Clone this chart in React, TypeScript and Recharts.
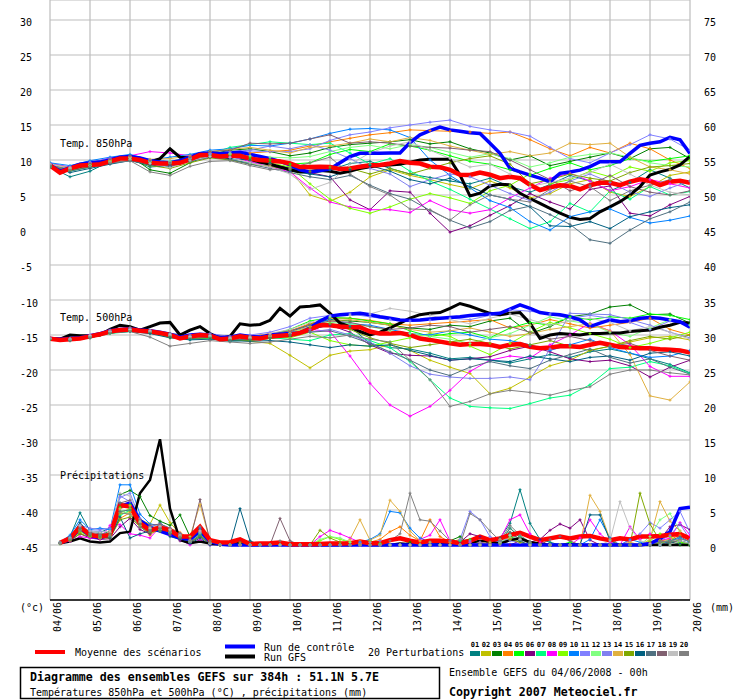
import React from 'react';
import { LineChart, Line, XAxis, YAxis, CartesianGrid } from 'recharts';

const FONT = '"DejaVu Sans Mono", "Liberation Mono", monospace';

// ---- axes / labels ----
const DATE_LABELS = ['04/06','05/06','06/06','07/06','08/06','09/06','10/06','11/06','12/06','13/06','14/06','15/06','16/06','17/06','18/06','19/06','20/06'];
const DATE_TICKS = [0,4,8,12,16,20,24,28,32,36,40,44,48,52,56,60,64];
const LEFT_TICKS = [-45,-40,-35,-30,-25,-20,-15,-10,-5,0,5,10,15,20,25,30];
const RIGHT_TICKS = [0,5,10,15,20,25,30,35,40,45,50,55,60,65,70,75];
const LEFT_DOMAIN = [-52.857, 32.857];
const RIGHT_DOMAIN = [-7.857, 77.857];

const MEMBER_NAMES = ['01','02','03','04','05','06','07','08','09','10','11','12','13','14','15','16','17','18','19','20'];
const MEMBER_COLORS = ['#008080','#c0c000','#008000','#ff8000','#00ff00','#800080','#00ff80','#ff00ff','#80ff00','#0080ff','#8080ff','#80ff80','#8080f0','#e0b040','#80a800','#006080','#507080','#806070','#c0c0c0','#808080'];

// ---- 6-hourly main series (65 points, 04/06 00h .. 20/06 00h) ----
const T850_MEAN = [
  9.2,8.2,8.8,9.2,9.3,9.4,9.8,10.2,10.2,10.0,9.6,9.5,9.5,9.6,10.1,10.7,
  10.7,10.5,10.6,10.6,10.2,10.0,9.9,9.8,9.5,9.0,9.0,9.05,9.0,8.7,8.8,9.05,
  9.25,9.3,9.5,9.85,9.6,9.5,9.05,8.95,8.6,7.9,7.85,8.2,7.9,7.4,7.6,7.4,
  6.45,5.7,6.1,6.4,6.3,5.8,6.4,6.75,6.75,6.4,6.9,7.25,7.0,6.4,6.9,7.05,
  6.75];
const T850_CTRL = [
  9.3,8.4,8.9,9.4,9.6,9.7,10.0,10.4,10.5,10.3,9.9,9.7,9.6,9.9,10.4,10.9,
  11.0,10.9,11.0,11.1,10.8,10.5,10.2,9.8,9.3,8.6,8.3,8.5,8.7,9.6,10.5,10.95,
  10.95,10.95,11.0,11.0,12.5,13.6,14.2,14.7,14.3,14.1,13.9,13.8,12.4,10.95,8.8,8.3,
  7.85,7.4,6.9,8.1,8.3,8.55,9.05,9.75,9.75,9.75,10.95,12.1,12.4,12.6,13.25,12.9,
  10.95];
const T850_GFS = [
  9.3,8.3,8.8,9.1,9.6,9.6,9.9,10.3,10.4,10.1,9.7,10.2,11.6,10.4,10.3,10.9,
  10.8,10.6,10.4,10.7,10.1,9.7,9.4,9.0,8.6,8.3,8.4,8.5,8.4,8.1,8.4,8.8,
  9.05,9.2,9.3,9.4,9.7,10.0,10.1,10.1,10.1,7.85,4.85,5.25,6.3,6.55,6.45,5.25,
  4.5,3.8,3.1,2.4,1.8,1.5,1.65,2.6,3.3,4.05,5.0,6.2,7.85,8.3,8.65,9.3,
  10.5];
const T500_MEAN = [
  -15.55,-15.7,-15.6,-15.5,-15.2,-14.9,-14.5,-14.3,-14.2,-14.4,-14.5,-14.7,-15.0,-15.5,-15.2,-15.0,
  -15.1,-15.6,-15.5,-15.2,-15.4,-15.5,-15.2,-15.1,-15.0,-14.7,-14.2,-13.6,-13.6,-13.8,-13.9,-13.9,
  -14.5,-14.8,-14.8,-14.7,-15.0,-15.5,-15.7,-15.95,-16.2,-16.4,-16.3,-16.3,-16.4,-16.7,-16.4,-16.3,
  -16.7,-16.9,-16.8,-16.6,-16.6,-16.7,-16.4,-16.1,-16.4,-16.7,-16.8,-16.9,-16.9,-17.05,-17.1,-17.2,
  -17.5];
const T500_CTRL = [
  -15.5,-15.6,-15.5,-15.4,-15.1,-14.8,-14.4,-14.2,-14.1,-14.3,-14.4,-14.6,-14.9,-15.3,-15.0,-14.9,
  -15.0,-15.4,-15.3,-15.0,-15.2,-15.3,-15.0,-14.9,-14.8,-14.7,-14.0,-13.0,-12.3,-12.1,-12.0,-11.9,
  -12.1,-12.4,-12.6,-12.85,-12.9,-12.85,-12.7,-12.6,-12.5,-12.4,-12.2,-12.1,-12.0,-11.9,-11.3,-10.7,
  -11.2,-11.8,-12.0,-12.1,-12.4,-12.85,-13.8,-13.3,-12.85,-13.1,-12.95,-12.6,-12.5,-12.6,-12.85,-13.1,
  -13.9];
const T500_GFS = [
  -15.5,-15.6,-15.0,-15.1,-15.1,-15.0,-14.2,-13.6,-13.8,-14.3,-13.8,-13.3,-13.2,-15.0,-14.3,-13.8,
  -14.8,-15.5,-15.2,-13.4,-13.6,-13.5,-12.9,-11.2,-12.3,-11.0,-10.9,-10.7,-11.9,-13.3,-13.8,-14.5,
  -15.0,-14.6,-14.0,-13.3,-12.6,-12.1,-11.9,-11.8,-11.2,-10.5,-10.9,-11.4,-11.9,-12.1,-11.9,-11.8,
  -13.3,-15.5,-15.0,-14.8,-14.9,-15.0,-14.8,-14.8,-14.7,-14.7,-14.5,-14.4,-14.3,-13.9,-13.6,-13.2,
  -13.3];
const RAIN_MEAN = [null,
  0.33,0.95,2.6,1.45,1.2,1.45,5.7,5.5,3.1,2.1,2.5,2.1,1.2,1.2,2.6,0.7,
  0.35,0.4,0.8,0.15,0.2,0.25,0.35,0.1,0.1,0.1,0.15,0.2,0.2,0.25,0.5,0.25,
  0.25,0.7,0.95,0.6,0.35,0.6,0.6,0.5,0.25,0.6,1.2,0.7,0.95,1.45,1.75,1.2,
  0.7,0.95,1.2,0.95,1.2,1.3,0.95,0.7,0.95,0.8,1.2,1.2,1.3,1.45,1.55,0.95];
const RAIN_CTRL = [null,
  0.3,0.8,2.4,1.3,1.0,1.5,5.5,6.0,3.5,2.5,2.0,1.5,1.0,0.8,2.0,0.5,
  0.1,0,0,0,0,0,0,0,0,0,0,0,0,0,0,0,
  0,0,0,0,0,0,0,0,0,0,0,0,0,0,0,0,
  0,0,0,0,0,0,0,0,0,0,0,0.2,0.9,1.9,5.2,5.4];
const RAIN_GFS = [null,
  0.25,0.5,0.95,0.5,0.35,0.5,1.7,1.9,7.4,9.3,15.1,5.2,0.7,0.25,0.5,0.2,
  0.1,0.1,0.3,0,0,0,0.1,0,0,0,0,0,0,0,0.1,0,
  0,0,0.2,0.1,0,0,0.1,0.2,0,0.3,0.6,0.5,0.2,0.7,0.95,0.4,
  0.2,0,0,0.1,0,0,0,0,0,0,0,0,0,0,0,0];

// ---- 12-hourly perturbation temperatures (33 points) ----
const T850_MEMBERS = [
  [9.0,7.6,8.4,9.8,10.1,9.0,9.2,10.4,11.2,10.0,9.6, 9.4,8.9,8.0,8.6,9.5,9.8,8.8,8.0,7.5,7.0,6.6, 7.4,6.2,5.4,6.5,7.8,7.0,5.6,6.8,8.6,7.4,6.0],
  [9.3,8.6,9.4,9.9,10.4,9.7,9.5,10.3,10.9,10.8,10.1, 9.3,8.6,5.0,4.1,5.4,7.6,8.6,7.8,7.2,6.5,5.9, 7.0,6.0,4.6,5.2,6.6,7.2,5.4,4.8,6.2,7.8,8.3],
  [9.5,8.9,9.6,10.2,10.6,8.6,8.1,9.6,10.8,11.4,11.6, 11.2,10.6,11.0,11.8,12.2,12.4,12.6,12.9,12.3,12.6,11.6, 11.0,10.0,10.6,9.2,9.8,10.4,11.0,10.2,11.6,11.8,10.2],
  [9.2,8.5,9.2,9.7,10.3,9.8,9.6,10.0,10.6,10.9,11.0, 11.2,11.4,12.0,12.6,13.1,13.6,13.9,14.3,14.2,14.1,14.0, 13.8,14.0,12.9,11.6,10.6,11.8,11.0,12.4,11.6,10.0,8.8],
  [9.1,8.8,9.4,10.0,10.5,9.9,9.4,10.2,11.0,10.7,10.4, 10.0,9.4,9.6,10.8,11.5,11.2,12.3,12.0,11.4,10.6,9.8, 9.4,8.6,7.8,8.8,9.6,8.6,9.2,10.2,9.8,10.2,10.6],
  [9.4,8.7,9.1,9.8,10.2,9.5,9.3,10.0,10.6,10.5,10.0, 9.4,8.8,8.2,7.6,4.3,2.9,5.6,5.4,2.4,-0.3,0.6, 2.1,3.5,5.2,4.0,3.0,5.8,6.3,2.4,2.0,3.6,4.8],
  [9.0,8.4,9.0,9.6,10.1,9.8,9.8,10.0,10.9,11.8,12.2, 12.6,12.4,12.2,12.4,11.0,9.4,10.2,8.4,7.0,5.8,4.4, 3.0,1.6,0.2,1.2,3.8,2.6,5.6,4.4,6.2,5.0,5.5],
  [9.5,9.0,9.6,10.3,10.6,11.2,11.0,10.6,11.0,10.4,9.8, 9.0,8.3,6.0,4.0,3.3,2.9,2.9,2.5,4.2,2.9,2.4, 2.9,4.6,6.0,7.4,8.1,7.0,5.6,6.2,7.2,6.6,6.0],
  [9.2,8.8,9.3,9.9,10.0,9.7,9.6,10.2,10.6,10.8,10.0, 9.6,9.0,6.6,4.4,3.1,2.4,3.3,4.4,5.2,4.6,3.8, 5.6,6.4,8.0,6.6,7.2,8.4,7.6,9.0,8.4,9.6,9.9],
  [9.6,9.2,9.9,10.4,10.8,10.0,10.4,10.8,11.4,11.6,12.1, 12.0,12.4,13.0,13.8,14.4,14.5,14.3,13.2,10.0,7.8,6.0, 4.2,3.2,1.2,0.0,1.9,2.6,3.0,1.8,1.0,1.4,2.0],
  [9.4,9.0,9.6,10.1,10.4,9.8,9.7,10.2,10.8,10.9,11.3, 11.2,11.2,11.6,12.8,13.6,14.0,14.6,15.0,15.4,15.7,14.8, 14.3,14.0,13.4,11.8,10.2,9.6,11.0,12.2,13.6,13.0,11.4],
  [9.0,8.6,9.2,9.8,10.3,9.9,9.8,10.4,11.2,11.0,10.6, 10.4,10.3,10.5,11.2,11.8,12.1,11.6,12.2,11.8,11.1,10.4, 10.9,10.2,9.0,9.6,10.4,10.8,11.0,10.4,9.6,9.2,9.0],
  [9.3,8.9,9.7,10.2,10.5,10.0,9.6,10.3,10.9,11.2,11.4, 12.0,11.6,12.2,11.4,10.2,8.8,8.0,6.2,7.2,8.0,7.6, 6.4,5.2,4.2,5.4,7.0,8.0,6.8,5.4,4.8,6.0,7.0],
  [9.4,8.9,9.5,10.0,10.4,10.1,10.2,10.6,11.2,11.5,11.8, 11.4,11.0,11.8,12.0,12.4,13.0,12.6,13.2,12.8,12.0,11.4, 10.8,11.2,10.6,11.0,12.4,12.2,12.4,10.4,9.0,8.6,8.0],
  [9.1,8.5,9.0,9.6,10.0,9.2,8.8,9.6,10.3,10.0,9.4, 9.1,8.6,8.4,9.0,8.8,8.0,8.8,8.0,8.8,9.6,10.2, 10.6,9.4,6.6,7.2,8.0,7.4,7.0,8.2,9.0,9.2,9.5],
  [9.2,8.2,8.8,9.4,9.9,9.3,9.0,9.9,10.4,10.2,10.0, 9.6,8.4,8.0,7.6,8.6,9.2,8.4,7.2,6.6,7.4,6.2, 5.0,4.4,3.3,0.6,0.5,1.2,0.2,1.9,2.6,3.2,3.6],
  [9.0,8.4,9.0,9.5,9.9,9.4,9.1,9.8,10.4,10.1,9.4, 8.8,8.2,7.6,7.2,7.8,6.4,5.2,4.4,2.8,1.4,0.3, 1.2,2.8,3.4,2.2,0.8,-1.4,-1.9,0.0,1.6,2.6,4.0],
  [9.3,8.7,9.5,10.1,10.6,9.9,9.6,10.4,11.2,11.4,12.4, 12.3,12.4,13.0,13.6,12.4,12.6,12.4,12.0,11.8,11.7,11.4, 11.2,10.0,8.6,7.2,5.6,6.4,7.8,6.2,5.4,5.0,5.6],
  [9.4,8.8,9.2,9.7,10.1,9.5,8.9,9.9,10.5,10.4,9.6, 9.0,8.0,5.8,6.8,9.4,11.0,12.0,12.6,11.4,10.2,9.0, 9.4,8.0,6.2,6.8,7.4,8.2,9.4,8.0,6.4,5.4,5.0],
  [9.2,8.6,9.2,9.6,9.9,8.3,7.8,9.1,9.8,9.9,9.2, 8.6,8.8,9.6,10.4,8.0,6.2,5.0,3.0,2.9,1.4,3.6, 5.0,4.4,4.0,5.8,7.0,6.2,4.2,5.6,6.4,7.2,7.0],
];
const T500_MEMBERS = [
  [-15.6,-15.8,-15.3,-14.7,-14.4,-14.7,-15.3,-15.6,-15.4,-15.9,-15.7, -15.5,-15.2,-14.4,-13.4,-13.8,-16.2,-16.8,-17.0,-17.6,-18.4,-18.2, -18.6,-19.0,-18.4,-17.8,-18.2,-17.4,-17.0,-17.6,-18.4,-19.2,-20.4],
  [-15.4,-15.6,-15.1,-14.4,-14.0,-14.6,-15.4,-15.3,-15.0,-15.6,-15.9, -16.2,-17.9,-19.7,-17.9,-17.3,-17.1,-16.4,-17.2,-18.6,-19.6,-20.5, -23.4,-22.6,-21.0,-19.4,-18.6,-17.2,-16.6,-16.0,-15.4,-15.2,-15.7],
  [-15.5,-15.5,-15.2,-14.5,-14.1,-14.4,-14.8,-15.1,-15.0,-15.3,-15.2, -15.0,-14.6,-13.4,-12.8,-13.0,-13.2,-13.6,-14.0,-14.2,-13.6,-13.8, -13.0,-12.6,-14.8,-13.8,-12.4,-12.0,-11.0,-10.7,-12.1,-12.0,-13.3],
  [-15.5,-15.7,-15.2,-14.6,-14.3,-14.5,-15.0,-15.2,-15.2,-15.4,-15.2, -14.8,-14.4,-13.4,-12.6,-12.6,-12.9,-13.4,-13.6,-13.4,-13.2,-13.0, -12.8,-14.0,-13.6,-12.8,-13.4,-14.0,-13.6,-13.2,-12.6,-14.2,-15.0],
  [-15.6,-15.6,-15.2,-14.5,-14.2,-14.4,-14.9,-15.4,-15.3,-15.6,-15.4, -15.0,-14.2,-13.0,-12.5,-12.6,-13.0,-13.4,-14.4,-15.2,-14.8,-14.6, -15.4,-14.0,-13.2,-13.6,-12.4,-12.8,-12.4,-12.6,-12.0,-12.2,-12.8],
  [-15.5,-15.7,-15.3,-14.6,-14.2,-14.6,-15.2,-15.3,-15.2,-15.5,-15.6, -15.4,-15.2,-14.2,-13.6,-14.6,-16.4,-17.6,-17.9,-18.0,-18.6,-18.4, -18.1,-17.2,-16.6,-17.4,-18.4,-18.8,-18.6,-19.4,-21.0,-19.6,-18.6],
  [-15.6,-15.8,-15.4,-14.8,-14.5,-14.7,-15.3,-15.6,-15.5,-15.8,-15.7, -15.4,-15.6,-15.8,-15.0,-14.8,-15.8,-16.8,-18.8,-21.4,-24.0,-25.2, -25.4,-25.5,-24.8,-24.0,-23.6,-22.1,-19.8,-19.6,-18.8,-19.4,-20.5],
  [-15.4,-15.5,-15.1,-14.4,-14.1,-14.4,-15.0,-15.2,-15.0,-15.4,-15.3, -15.0,-14.8,-14.2,-14.5,-18.0,-21.9,-25.0,-26.6,-25.2,-22.9,-20.2, -18.6,-18.0,-18.3,-16.4,-15.0,-13.3,-14.4,-16.4,-19.5,-20.9,-20.9],
  [-15.6,-15.6,-15.2,-14.6,-14.3,-14.6,-15.2,-15.5,-15.2,-15.6,-15.5, -15.2,-15.4,-14.6,-15.8,-16.4,-16.6,-16.0,-15.4,-14.8,-15.2,-16.6, -17.8,-16.2,-14.6,-13.2,-14.0,-14.8,-15.6,-16.8,-16.2,-15.4,-14.6],
  [-15.5,-15.6,-15.2,-14.4,-14.1,-14.4,-14.9,-15.1,-15.1,-15.4,-15.3, -15.0,-14.6,-13.6,-12.8,-13.4,-13.6,-14.2,-14.8,-15.0,-14.4,-15.0, -15.6,-15.8,-16.4,-17.2,-16.4,-15.6,-16.8,-17.6,-18.2,-18.0,-17.2],
  [-15.4,-15.5,-15.0,-14.3,-14.0,-14.3,-14.8,-15.0,-14.8,-15.2,-15.0, -14.6,-13.8,-12.6,-12.2,-12.0,-12.4,-12.8,-13.0,-12.9,-12.6,-12.8, -12.2,-11.4,-11.6,-12.0,-12.6,-12.2,-12.6,-13.2,-14.2,-13.0,-13.6],
  [-15.6,-15.7,-15.3,-14.6,-14.3,-14.5,-15.1,-15.4,-15.3,-15.6,-15.5, -15.2,-14.8,-13.8,-13.2,-13.4,-13.8,-14.4,-14.8,-15.2,-15.6,-16.2, -15.4,-14.8,-13.6,-12.4,-13.0,-13.4,-14.6,-15.2,-14.0,-12.8,-13.6],
  [-15.5,-15.6,-15.2,-14.5,-14.2,-14.5,-15.0,-15.3,-15.2,-15.5,-15.4, -15.1,-14.8,-14.6,-14.2,-15.0,-16.0,-17.6,-19.4,-20.6,-21.0,-21.2, -21.2,-21.0,-21.4,-17.0,-11.9,-12.0,-12.1,-12.8,-13.6,-14.6,-15.4],
  [-15.5,-15.6,-15.2,-14.6,-14.3,-14.6,-15.1,-15.3,-15.2,-15.5,-15.4, -15.1,-14.6,-13.8,-13.0,-12.8,-13.2,-13.6,-14.2,-14.6,-14.4,-14.0, -14.6,-15.2,-14.8,-14.2,-13.8,-13.4,-14.4,-17.8,-23.7,-24.3,-21.7],
  [-15.6,-15.7,-15.3,-14.7,-14.4,-14.7,-15.3,-15.5,-15.4,-15.7,-15.8, -15.5,-15.0,-14.0,-13.4,-14.2,-15.4,-16.2,-16.8,-16.4,-16.0,-15.6, -16.2,-17.0,-16.4,-15.8,-16.6,-17.2,-16.6,-15.8,-15.2,-15.6,-15.0],
  [-15.6,-15.8,-15.4,-14.7,-14.5,-14.8,-15.4,-15.7,-15.6,-15.8,-15.9, -15.8,-16.0,-16.4,-16.8,-16.4,-16.6,-16.4,-17.2,-17.9,-18.6,-18.4, -18.6,-18.8,-18.0,-18.4,-18.8,-18.2,-18.0,-18.6,-17.6,-17.4,-18.0],
  [-15.5,-15.7,-15.3,-14.6,-14.4,-14.6,-15.2,-15.5,-15.3,-15.7,-15.6, -15.4,-15.0,-14.6,-14.4,-15.2,-16.2,-17.4,-18.6,-20.0,-20.8,-19.6, -18.8,-19.4,-19.8,-18.6,-17.8,-17.0,-18.2,-19.0,-18.4,-19.6,-20.6],
  [-15.4,-15.5,-15.1,-14.4,-14.1,-14.4,-14.9,-15.1,-15.0,-15.3,-15.2, -14.9,-14.4,-13.6,-13.0,-13.2,-13.8,-14.2,-14.0,-13.6,-13.8,-14.6, -14.2,-13.8,-14.6,-15.6,-15.2,-15.8,-16.6,-16.2,-17.2,-18.0,-18.6],
  [-15.5,-15.6,-15.1,-14.5,-14.2,-14.4,-14.9,-15.2,-15.1,-15.4,-15.3, -14.8,-14.2,-13.2,-12.4,-12.2,-12.0,-11.2,-11.6,-12.2,-12.8,-13.4, -12.6,-12.0,-12.8,-13.6,-13.0,-12.6,-13.2,-14.4,-13.8,-14.6,-15.6],
  [-15.6,-15.8,-15.4,-14.7,-14.5,-15.3,-16.6,-16.2,-15.8,-16.0,-16.2, -16.0,-15.6,-15.2,-15.4,-15.0,-15.6,-16.0,-18.6,-21.4,-25.2,-24.5, -23.4,-22.9,-23.2,-23.6,-22.9,-22.4,-20.6,-20.0,-20.0,-20.4,-20.7],
];

// ---- 6-hourly perturbation precipitation (65 points, first is empty) ----
const RAIN_MEMBERS = [
  [null, 0.3,1.2,4.6,2.0,1.8,2.4,6.0,5.4,2.6,1.6,3.2,2.0,1.4,0.6,2.2,0.2, 0,0,0.4,0,0,0,0,0,0,0,0,0,0,0,0,0, 0,0,0,0,0,0,0,0,0,0,0,0,1.0,3.1,7.9,3.1, 0.8,0.4,0,0,0,0,0,0,0,0,0,0,0,0.3,0.6,0.2],
  [null, 0.4,0.8,2.6,1.4,1.0,1.2,4.4,4.8,3.6,3.0,5.7,3.2,1.6,0.4,1.8,0.3, 0,0,0,0,0,0,0,0,0,0,0,0,0,0,0.2,0.4, 0.2,0,0,0,0,0,0,0.4,0.8,0,0,0,0.6,1.4,0.8,0, 0,0,0,0,0,0,0,0,0,0,0,0,0.3,0.4,0.2,0],
  [null, 0.3,0.9,2.2,1.6,1.4,2.0,7.2,7.8,6.9,4.2,3.4,2.8,4.3,1.2,1.4,0.4, 0,0,0.2,0,0,0,0,0,0,0,0,0,0,0,0,0, 0,0,0,0.4,0,0,0,0.6,1.2,0,0,0.4,0.8,1.4,0.6,0.2, 0,0,0,0,0,0,0,0,0,0,0,0,0,0,0,0],
  [null, 0.2,0.7,2.0,1.4,1.2,1.0,3.8,4.6,2.8,1.4,2.6,2.4,1.8,0.8,2.0,0.4, 0,0,0.3,0,0,0,0,0,0,0,0,0,0,0,0.6,0.4, 0.8,1.9,2.6,1.4,0.6,3.6,1.2,0.4,0,0,0.3,0.2,0.4,0.8,1.0,0.4, 0.2,0,0,0,0,0,0,0,0,0,0,0.4,0.6,0.8,1.4,0.6],
  [null, 0.3,1.0,2.4,1.2,1.0,1.6,5.4,5.8,3.4,2.2,2.0,1.6,1.0,0.6,1.6,0.2, 0,0,0,0,0,0,0,0,0,0,0,0,0,0,0.4,0.6, 0.2,0,0,0,0,0,0,0,0.6,0.8,0,0,0.4,1.2,0.6,0.2, 0,0,0,0.4,0,0,0,0,0,0,0,0,0.4,0.6,0.4,0.2],
  [null, 0.3,0.6,1.6,1.0,0.8,0.9,2.6,3.8,2.2,1.6,2.8,1.8,0.6,0.3,1.2,0.2, 0,0,0,0,0,0,0,0,0,0,0,0,0,0,0,0, 0,0,0,0,0,0,0,0,0.4,1.6,1.2,0,0,0,0.6,0.4, 0.8,2.1,3.0,2.4,3.6,0.7,0,0,0,0,0,0.4,0.8,2.6,2.9,2.2],
  [null, 0.2,0.8,2.0,1.6,1.4,1.2,4.2,5.0,3.2,2.4,2.2,1.8,1.2,0.4,1.4,0.2, 0,0,0,0,0,0,0,0,0,0,0,0,0,0,0,0, 0,0,0,0,0,0,0,0,0.6,0.4,0,0,0.2,2.4,1.2,0.4, 0,0,0,0,0,0,0,0,0,0,0,0,0,0.4,0.6,0.2],
  [null, 0.3,0.5,1.2,1.0,0.9,2.8,2.9,1.6,1.4,1.0,2.6,1.4,0.8,0,0.8,0, 0,0,0,0,0,0,0,0,0,0,1.2,2.1,1.6,1.0,0.4,0, 0,0,0,0,0.8,1.4,3.6,0.6,0,0.4,0,0,0.8,3.6,4.3,1.6, 0.4,0,0,0,1.0,3.6,1.6,0.4,0,2.6,0.8,1.6,0.6,1.0,3.2,1.4],
  [null, 0.2,0.7,1.8,1.4,1.2,1.4,4.6,5.2,3.0,2.6,2.4,2.0,1.4,0.6,1.8,0.2, 0,0,0,0,0,0,0,0,0,0,0.6,1.2,0.8,0.4,0,0, 0,0,0,0,0,0,0,0,0,0,0,0,0.4,1.8,0.8,0.2, 0,0,0,0,0,0,0,0,0,0,0,0.6,1.6,1.2,0.4,0],
  [null, 0.4,1.4,3.6,2.2,2.4,2.2,8.6,8.6,4.4,3.0,2.8,2.2,1.6,0.4,2.4,0.2, 0,0,0,0,0,0,0,0,0,0,0,0,0,0,0.4,0.8, 1.6,4.8,4.6,2.4,1.0,0.4,0,0,0,0,0,0,0.6,1.4,0.8,0.2, 0,0,0,0,0,0.8,3.6,1.0,0,0.8,0.4,0,0,0.6,1.0,0.4],
  [null, 0.3,1.0,2.6,2.0,2.0,1.8,6.8,7.4,3.8,2.6,3.0,2.4,1.6,0.6,2.0,0.3, 0,0,0,0,0,0,0,0,0,0,0,0,0,0,0,0, 0,0,0,0,0,0,0,0,0.8,4.8,3.6,1.2,0.4,1.0,0.6,0, 0,0,0,0,0,0,0,0,0,0.6,1.6,3.2,2.4,3.6,4.8,1.8],
  [null, 0.2,0.9,2.2,1.2,1.0,1.2,5.0,4.4,2.8,2.0,2.2,1.8,1.2,0.4,1.6,0.2, 0,0,0,0,0,0,0,0,0,0,0.8,1.2,1.0,0.4,0,0, 0,0,0,0,0,0,0,0,0,0,0,0,0.2,1.4,0.6,0, 0,0,0,0,0,0,0,0,0,0,0,1.2,3.6,4.5,2.0,0.6],
  [null, 0.3,1.1,2.8,2.4,2.2,2.4,7.0,6.2,3.2,2.2,2.6,2.0,1.2,0.4,1.8,0.2, 0,0,0,0,0,0,0,0,0,0,0,0,0,0,0.2,0.4, 0.6,0,0,0,0,0,0,0,0,0.6,0.4,0,0,0.6,0.4,0, 0,0,0,0,0,0,0,0,0,0,0,0,0.6,1.4,3.0,0.8],
  [null, 0.3,0.8,2.2,1.6,1.4,1.8,5.2,5.6,3.2,2.4,2.8,2.2,1.4,1.2,5.8,0.6, 0,0,0,0,0,0,0,0,0,0,0,0,0,0.8,3.6,0.7, 1.4,6.4,4.8,2.0,0.6,0.4,0,0,0,0,0,0.4,0.8,1.0,0.4,0, 0,0,0,0,0,7.1,4.8,0.8,0,0.4,0,0.8,6.2,3.4,2.0,0.4],
  [null, 0.2,0.6,1.6,1.2,1.0,1.0,3.6,4.0,2.6,1.8,2.0,1.6,1.0,0.4,1.2,0.2, 0,0,0,0,0,0,0,0,0,0,2.1,1.0,0.4,0,0,0, 0,0,0,0,0,0,0,0,0,0,0,0,0.2,0.8,0.4,0, 0,0,0,0,0,0,0,0,0,0,7.4,3.0,0.6,0.4,0.2,0],
  [null, 0.3,1.0,3.2,1.6,1.4,1.0,4.0,1.0,1.6,2.0,2.4,1.2,0.8,0.2,1.0,0, 0,0,5.2,0.6,0,0,0,0,0,0,0,0,0,0,0,0, 0,0,0,0,0,0,0,0,0,0,0,0,0.4,1.8,0.6,0, 0,0,0,0,0,4.3,4.3,0.6,0,0,0,0,0,0.4,0.2,0],
  [null, 0.2,0.8,2.2,1.4,1.2,1.2,4.8,5.0,3.0,2.2,2.0,1.6,1.0,0.4,1.4,0.2, 0,0,0,0,0,0,0,0,0,0,0,0,0,0,0,0, 0,0,0,0,0,0,0,0,0,0,0,0,0.4,2.4,1.0,0.2, 0,0,0,0,0,0,0,0,0,0,0,0,0.4,0.6,1.2,0.4],
  [null, 0.3,0.9,2.4,1.8,1.6,1.6,6.0,6.4,3.6,2.8,3.0,2.4,1.6,0.6,6.5,0.6, 0,0,0,0,0,0,3.8,0.6,0,0,0,0,0,0,0,0, 0,0,0,0,0,0,0,0,0,0,0,0,0.4,1.8,0.8,0, 0,0.8,1.2,0.6,0,0,0,0,0,0,0,0,0,0.4,0.6,0.2],
  [null, 0.3,1.0,2.8,2.0,1.8,2.0,7.4,7.0,3.4,2.4,2.6,2.2,1.4,0.6,2.0,0.2, 0,0,0,0,0,0,0,0,0,0,0,0,0,0,0,0, 0,0,0,0,0,0,0,0,0,0,0,0,0.4,1.4,0.8,0, 0,0,0,0,0,0,0,0.6,6.2,2.4,0.6,0.2,0,0,0.6,0.2],
  [null, 0.3,0.8,2.0,1.6,1.4,1.4,4.6,4.4,2.6,2.0,2.4,1.8,1.2,0.6,2.6,0.3, 0,0,0,0,0,0,0.6,0,0,0,0,0,0,0,0,0, 0,0.6,1.6,7.4,3.6,3.4,2.0,0.6,0,4.5,3.6,2.0,0.6,2.8,1.4,0.4, 0,0,0,0,0,0,0,0,0,0,0,0,0.4,0.6,0.8,0.6],
];

// ---- data tables built from the arrays ----
const ROWS = T850_MEAN.map((_, i) => ({
  i,
  t850Mean: T850_MEAN[i], t850Ctrl: T850_CTRL[i], t850Gfs: T850_GFS[i],
  t500Mean: T500_MEAN[i], t500Ctrl: T500_CTRL[i], t500Gfs: T500_GFS[i],
  rainMean: RAIN_MEAN[i], rainCtrl: RAIN_CTRL[i], rainGfs: RAIN_GFS[i],
}));
const toSeries12 = (vals: number[]) => vals.map((v, k) => ({ i: k * 2, v }));
const toSeries6 = (vals: (number | null)[]) => vals.map((v, i) => ({ i, v }));
const T850_SERIES = T850_MEMBERS.map(toSeries12);
const T500_SERIES = T500_MEMBERS.map(toSeries12);
const RAIN_SERIES = RAIN_MEMBERS.map(toSeries6);

const crossDot = (color: string) => (p: any) => {
  const key = `d${p.index}`;
  if (p.cx == null || p.cy == null || p.value == null || (Array.isArray(p.value) && p.value[1] == null)) return <g key={key} />;
  const { cx, cy } = p;
  return <path key={key} d={`M${cx - 1.5},${cy}H${cx + 1.5}M${cx},${cy - 1.5}V${cy + 1.5}`} stroke={color} strokeWidth={1} fill="none" />;
};

const textStyle = { fontFamily: FONT, fontSize: 10, fill: '#000' } as const;

const LeftTick = (p: any) => (
  <text x={20} y={p.y + 3} dominantBaseline="central" textAnchor="start" style={textStyle}>{p.payload.value}</text>
);
const RightTick = (p: any) => (
  <text x={716} y={p.y + 3} dominantBaseline="central" textAnchor="end" style={textStyle}>{p.payload.value}</text>
);
const DateTick = (p: any) => {
  const idx = DATE_TICKS.indexOf(p.payload.value);
  return (
    <text transform={`translate(${p.x + 7},602) rotate(-90)`} textAnchor="end" dominantBaseline="central" style={textStyle}>
      {DATE_LABELS[idx]}
    </text>
  );
};

export default function App() {
  return (
    <div style={{ position: 'absolute', left: 0, top: 0, width: 740, height: 700, background: '#fff' }}>
      <LineChart width={740} height={700} data={ROWS} margin={{ top: 0, right: 0, bottom: 0, left: 0 }}>
        <CartesianGrid yAxisId="left" stroke="#bdbdbd" strokeWidth={1.2} />
        <XAxis type="number" dataKey="i" domain={[0, 64]} ticks={DATE_TICKS} interval={0} height={100}
          tick={DateTick} tickLine={false} axisLine={{ stroke: '#000', strokeWidth: 1.5 }} allowDataOverflow />
        <YAxis yAxisId="left" orientation="left" width={50} type="number" domain={LEFT_DOMAIN} ticks={LEFT_TICKS}
          interval={0} tick={LeftTick} tickLine={false} axisLine={false} allowDataOverflow />
        <YAxis yAxisId="right" orientation="right" width={50} type="number" domain={RIGHT_DOMAIN} ticks={RIGHT_TICKS}
          interval={0} tick={RightTick} tickLine={false} axisLine={false} allowDataOverflow />

        {T850_SERIES.map((d, m) => (
          <Line key={`a${m}`} data={d} dataKey="v" yAxisId="left" stroke={MEMBER_COLORS[m]} strokeWidth={1}
            dot={crossDot(MEMBER_COLORS[m])} activeDot={false} isAnimationActive={false} />
        ))}
        {T500_SERIES.map((d, m) => (
          <Line key={`b${m}`} data={d} dataKey="v" yAxisId="left" stroke={MEMBER_COLORS[m]} strokeWidth={1}
            dot={crossDot(MEMBER_COLORS[m])} activeDot={false} isAnimationActive={false} />
        ))}
        {RAIN_SERIES.map((d, m) => (
          <Line key={`c${m}`} data={d} dataKey="v" yAxisId="right" stroke={MEMBER_COLORS[m]} strokeWidth={1}
            dot={crossDot(MEMBER_COLORS[m])} activeDot={false} isAnimationActive={false} />
        ))}

        <Line dataKey="t850Gfs" yAxisId="left" stroke="#000" strokeWidth={3} dot={false} activeDot={false} isAnimationActive={false} />
        <Line dataKey="t500Gfs" yAxisId="left" stroke="#000" strokeWidth={3} dot={false} activeDot={false} isAnimationActive={false} />
        <Line dataKey="rainGfs" yAxisId="right" stroke="#000" strokeWidth={2.5} dot={false} activeDot={false} isAnimationActive={false} />
        <Line dataKey="t850Ctrl" yAxisId="left" stroke="#0000ff" strokeWidth={3.5} dot={false} activeDot={false} isAnimationActive={false} />
        <Line dataKey="t500Ctrl" yAxisId="left" stroke="#0000ff" strokeWidth={3.5} dot={false} activeDot={false} isAnimationActive={false} />
        <Line dataKey="rainCtrl" yAxisId="right" stroke="#0000ff" strokeWidth={3.5} dot={false} activeDot={false} isAnimationActive={false} />
        <Line dataKey="t850Mean" yAxisId="left" stroke="#ff0000" strokeWidth={4.5} dot={false} activeDot={false} isAnimationActive={false} />
        <Line dataKey="t500Mean" yAxisId="left" stroke="#ff0000" strokeWidth={4.5} dot={false} activeDot={false} isAnimationActive={false} />
        <Line dataKey="rainMean" yAxisId="right" stroke="#ff0000" strokeWidth={4.5} dot={false} activeDot={false} isAnimationActive={false} />
      </LineChart>

      <svg width={740} height={700} style={{ position: 'absolute', left: 0, top: 0, pointerEvents: 'none' }}>
        <text x={60} y={143} dominantBaseline="central" style={textStyle}>Temp. 850hPa</text>
        <text x={60} y={317} dominantBaseline="central" style={textStyle}>Temp. 500hPa</text>
        <text x={60} y={475} dominantBaseline="central" style={textStyle}>Précipitations</text>
        <text x={20} y={607} dominantBaseline="central" style={textStyle}>(°c)</text>
        <text x={710} y={607} dominantBaseline="central" style={textStyle}>(mm)</text>
        <line x1={35} x2={65} y1={652} y2={652} stroke="#ff0000" strokeWidth={4} />
        <text x={75} y={652} dominantBaseline="central" style={textStyle}>Moyenne des scénarios</text>
        <line x1={225} x2={255} y1={646.5} y2={646.5} stroke="#0000ff" strokeWidth={4} />
        <text x={264} y={647} dominantBaseline="central" style={textStyle}>Run de contrôle</text>
        <line x1={225} x2={255} y1={656.5} y2={656.5} stroke="#000" strokeWidth={4} />
        <text x={264} y={657} dominantBaseline="central" style={textStyle}>Run GFS</text>
        <text x={368} y={652} dominantBaseline="central" style={textStyle}>20 Perturbations</text>
        {MEMBER_NAMES.map((n, k) => (
          <g key={n}>
            <text x={475 + 11 * k} y={644.5} textAnchor="middle" dominantBaseline="central"
              style={{ fontFamily: FONT, fontSize: 7, fontWeight: 'bold', fill: '#000' }}>{n}</text>
            <rect x={470 + 11 * k} y={651} width={10} height={5} fill={MEMBER_COLORS[k]} />
          </g>
        ))}
        <rect x={20.5} y={667.5} width={419} height={31} fill="none" stroke="#000" strokeWidth={1.5} />
        <text x={30} y={677} dominantBaseline="central" style={{ fontFamily: FONT, fontSize: 11.6, fontWeight: 'bold', fill: '#000' }}>
          Diagramme des ensembles GEFS sur 384h : 51.1N 5.7E
        </text>
        <text x={30} y={692} dominantBaseline="central" style={textStyle}>Températures 850hPa et 500hPa (°C) , précipitations (mm)</text>
        <text x={449} y={672} dominantBaseline="central" style={textStyle}>Ensemble GEFS du 04/06/2008 - 00h</text>
        <text x={449} y={692} dominantBaseline="central" style={{ fontFamily: FONT, fontSize: 11.6, fontWeight: 'bold', fill: '#000' }}>
          Copyright 2007 Meteociel.fr
        </text>
      </svg>
    </div>
  );
}
